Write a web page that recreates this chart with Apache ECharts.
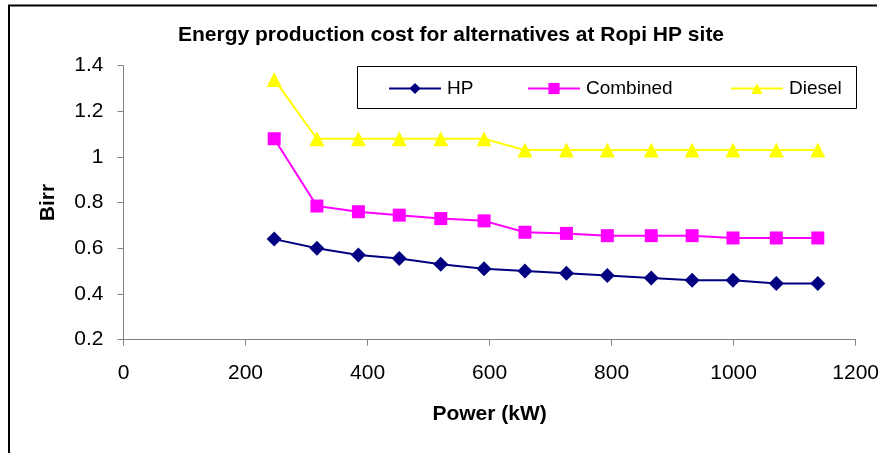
<!DOCTYPE html>
<html>
<head>
<meta charset="utf-8">
<script src="https://cdn.jsdelivr.net/npm/echarts@6/dist/echarts.min.js"></script>
<style>
html,body{margin:0;padding:0;background:#fff;}
#chart{width:882px;height:453px;}
</style>
</head>
<body>
<div id="chart"></div>
<script>
const power = [247, 317, 385, 452, 520, 591, 658, 726, 793, 865, 932, 999, 1070, 1138];
const hp = [0.64, 0.60, 0.57, 0.555, 0.53, 0.51, 0.50, 0.49, 0.48, 0.47, 0.46, 0.46, 0.445, 0.445];
const combined = [1.08, 0.785, 0.76, 0.745, 0.73, 0.72, 0.67, 0.665, 0.655, 0.655, 0.655, 0.645, 0.645, 0.645];
const diesel = [1.34, 1.08, 1.08, 1.08, 1.08, 1.08, 1.03, 1.03, 1.03, 1.03, 1.03, 1.03, 1.03, 1.03];
const seriesNames = ['HP', 'Combined', 'Diesel'];
const titleText = 'Energy production cost for alternatives at Ropi HP site';
const xTitle = 'Power (kW)';
const yTitle = 'Birr';

const pair = arr => power.map((p, i) => [p, arr[i]]);
const font = 'Liberation Sans, Arial, sans-serif';
const chart = echarts.init(document.getElementById('chart'));
const legendBase = {
  top: 79, itemWidth: 52, itemHeight: 14, padding: 0,
  textStyle: {fontSize: 19, fontFamily: font, color: '#000', padding: [0, 0, 0, 1]}
};
chart.setOption({
  animation: false,
  backgroundColor: '#fff',
  title: {
    text: titleText, left: 446, top: 20, textAlign: 'center',
    textStyle: {fontSize: 21, fontWeight: 'bold', fontFamily: font, color: '#000'}
  },
  graphic: [
    {type: 'polyline', shape: {points: [[9, 453], [9, 5.5], [877, 5.5]]}, style: {stroke: '#000', lineWidth: 2, fill: null}},
    {type: 'rect', shape: {x: 357.5, y: 66.5, width: 499, height: 42}, style: {stroke: '#000', lineWidth: 1, fill: '#fff'}, z: 1}
  ],
  legend: [
    Object.assign({left: 388, data: [seriesNames[0]]}, legendBase),
    Object.assign({left: 527, data: [seriesNames[1]]}, legendBase),
    Object.assign({left: 730, data: [seriesNames[2]]}, legendBase)
  ],
  grid: {left: 123.5, right: 25.5, top: 65.7, bottom: 113.5, containLabel: false},
  xAxis: {
    type: 'value', min: 0, max: 1200, interval: 200,
    name: xTitle, nameLocation: 'middle', nameGap: 64,
    nameTextStyle: {fontSize: 21, fontWeight: 'bold', fontFamily: font, color: '#000'},
    axisLine: {lineStyle: {color: '#808080', width: 1}},
    axisTick: {length: 6, lineStyle: {color: '#808080'}},
    axisLabel: {fontSize: 21, fontFamily: font, color: '#000', margin: 23, formatter: v => String(v)},
    splitLine: {show: false}
  },
  yAxis: {
    type: 'value', min: 0.2, max: 1.4, interval: 0.2,
    name: yTitle, nameLocation: 'middle', nameGap: 65, nameRotate: 90,
    nameTextStyle: {fontSize: 21, fontWeight: 'bold', fontFamily: font, color: '#000'},
    axisLine: {show: true, lineStyle: {color: '#808080', width: 1}},
    axisTick: {show: true, length: 6, lineStyle: {color: '#808080'}},
    axisLabel: {fontSize: 21, fontFamily: font, color: '#000', margin: 20},
    splitLine: {show: false}
  },
  series: [
    {name: seriesNames[0], type: 'line', data: pair(hp), symbol: 'diamond', symbolSize: 15,
     lineStyle: {color: '#000080', width: 2}, itemStyle: {color: '#000080'}},
    {name: seriesNames[1], type: 'line', data: pair(combined), symbol: 'rect', symbolSize: 13,
     lineStyle: {color: '#FF00FF', width: 2}, itemStyle: {color: '#FF00FF'}},
    {name: seriesNames[2], type: 'line', data: pair(diesel), symbol: 'triangle', symbolSize: 15,
     lineStyle: {color: '#FFFF00', width: 2}, itemStyle: {color: '#FFFF00'}}
  ]
});
</script>
</body>
</html>
